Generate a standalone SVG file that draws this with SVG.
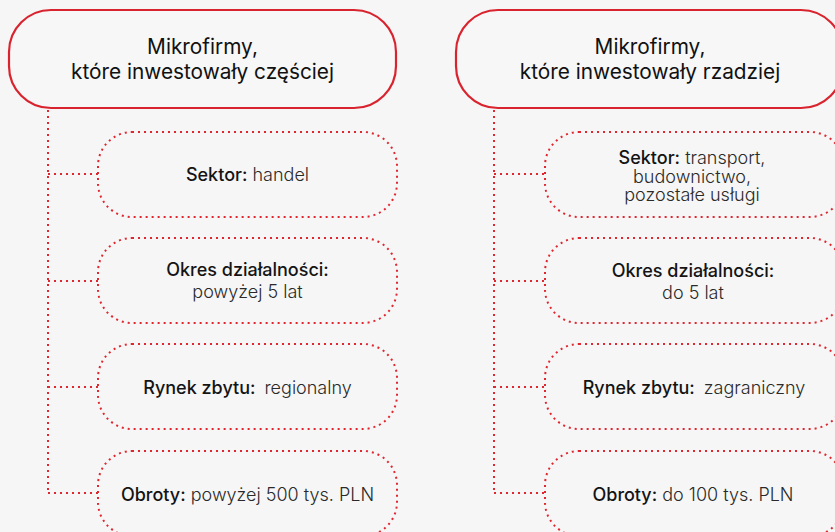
<svg xmlns="http://www.w3.org/2000/svg" width="835" height="532" viewBox="0 0 835 532">
<style>
.bg{fill:#f6f6f6}
.head{fill:#f7f7f7;stroke:#d9232e;stroke-width:2.2}
.item{fill:none;stroke:#e0262f;stroke-width:2;stroke-dasharray:2 4}
.conn{fill:none;stroke:#e0262f;stroke-width:2;stroke-dasharray:2 4}
text{font-family:Inter,"Noto Sans","Liberation Sans",sans-serif;text-anchor:middle;fill:#1c1c1c}
.ht{font-size:20.8px;font-weight:400;fill:#111}
.t{font-size:18px;font-weight:300;fill:#2a2a2a}
.b{font-weight:500;fill:#141414}
</style>
<rect class="bg" x="0" y="0" width="835" height="532"/>
<g id="connectors">
<path class="conn" d="M48 110V493M48 174H98M48 281H98M48 387H98M48 493H98"/>
<path class="conn" d="M494 110V493M494 174H545M494 281H545M494 387H545M494 493H545"/>
</g>
<g id="head-left">
<rect class="head" x="9" y="10" width="387" height="98" rx="42"/>
<text class="ht" x="202.5" y="54">Mikrofirmy,</text>
<text class="ht" x="202.5" y="79">które inwestowały częściej</text>
</g>
<g id="left-sektor">
<rect class="item" x="98" y="132" width="299" height="85" rx="34"/>
<text class="t" x="247.5" y="181"><tspan class="b">Sektor:</tspan> handel</text>
</g>
<g id="left-okres">
<rect class="item" x="98" y="238" width="299" height="85" rx="34"/>
<text class="t" x="247.5" y="276"><tspan class="b">Okres działalności:</tspan></text>
<text class="t" x="247.5" y="298">powyżej 5 lat</text>
</g>
<g id="left-rynek">
<rect class="item" x="98" y="344" width="299" height="85" rx="34"/>
<text class="t" x="247.5" y="394"><tspan class="b">Rynek zbytu:</tspan><tspan dx="9">regionalny</tspan></text>
</g>
<g id="left-obroty">
<rect class="item" x="98" y="451" width="299" height="85" rx="34"/>
<text class="t" x="247.5" y="501"><tspan class="b">Obroty:</tspan> powyżej 500 tys. PLN</text>
</g>
<g id="head-right">
<rect class="head" x="456" y="10" width="387" height="98" rx="42"/>
<text class="ht" x="650" y="54">Mikrofirmy,</text>
<text class="ht" x="650" y="79">które inwestowały rzadziej</text>
</g>
<g id="right-sektor">
<rect class="item" x="545" y="132" width="299" height="85" rx="34"/>
<text class="t" x="692" y="163.5"><tspan class="b">Sektor:</tspan> transport,<tspan x="692" dy="19">budownictwo,</tspan><tspan x="692" dy="18.5">pozostałe usługi</tspan></text>
</g>
<g id="right-okres">
<rect class="item" x="545" y="238" width="299" height="85" rx="34"/>
<text class="t" x="693" y="277"><tspan class="b">Okres działalności:</tspan></text>
<text class="t" x="693" y="299">do 5 lat</text>
</g>
<g id="right-rynek">
<rect class="item" x="545" y="344" width="299" height="85" rx="34"/>
<text class="t" x="694" y="394"><tspan class="b">Rynek zbytu:</tspan><tspan dx="9">zagraniczny</tspan></text>
</g>
<g id="right-obroty">
<rect class="item" x="545" y="451" width="299" height="85" rx="34"/>
<text class="t" x="693" y="501"><tspan class="b">Obroty:</tspan> do 100 tys. PLN</text>
</g>
</svg>
